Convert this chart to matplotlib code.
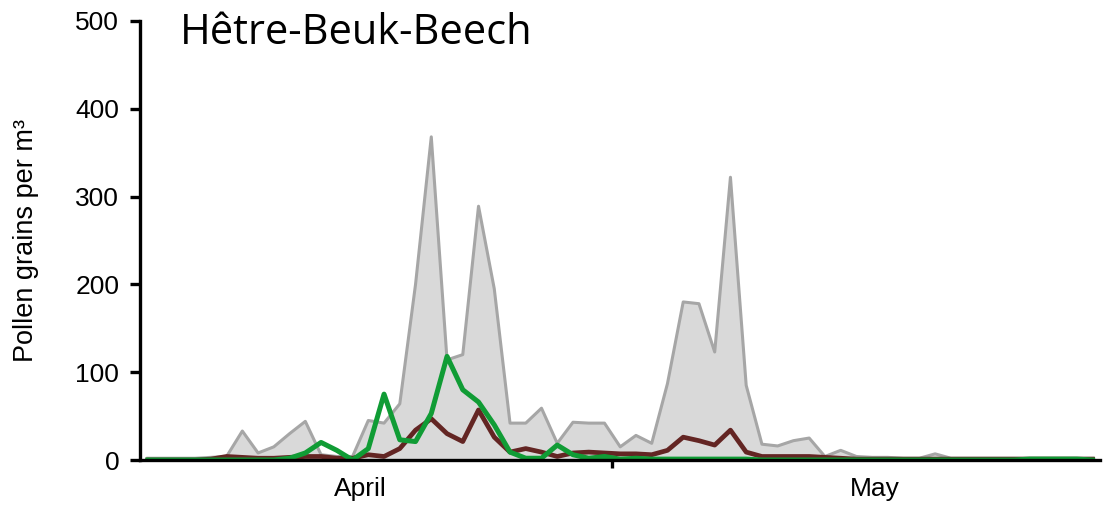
import matplotlib
matplotlib.use("Agg")
import matplotlib.pyplot as plt
import numpy as np

# daily values, 1 April -> 31 May (61 days)
total = [2, 2, 2, 2, 3, 4, 33, 8, 15, 30, 44, 6, 4, 4, 45, 42, 64, 200, 368, 114,
         120, 289, 195, 42, 42, 59, 19, 43, 42, 42, 15, 28, 19, 87, 180, 178, 123, 322, 85, 18,
         16, 22, 25, 4, 11, 4, 3, 3, 2, 2, 7, 2, 2, 2, 2, 2, 2, 2, 2, 2, 2]
site_red = [0, 0, 0, 0, 1, 4, 3, 2, 2, 3, 4, 4, 2, 2, 6, 4, 13, 34, 47, 30,
            21, 57, 26, 9, 13, 9, 4, 8, 9, 8, 7, 7, 6, 11, 26, 22, 17, 34, 9, 4,
            4, 4, 4, 3, 2, 1, 1, 1, 1, 1, 1, 1, 1, 1, 1, 1, 1, 1, 1, 1, 1]
site_green = [0, 0, 0, 0, 0, 0, 0, 0, 0, 2, 8, 20, 11, 0, 13, 75, 23, 21, 53, 118,
              80, 66, 40, 9, 2, 2, 17, 6, 2, 4, 1, 2, 1, 1, 1, 1, 1, 1, 1, 0,
              0, 0, 0, 0, 0, 0, 0, 0, 0, 0, 0, 0, 0, 0, 0, 0, 1, 1, 1, 1, 0]
months = ["April", "May"]
month_days = [30, 31]
month_label_pos = [14.0, 46.7]

x = np.arange(len(total)) + 0.5

fig = plt.figure(figsize=(11.04, 5.07), dpi=100)
ax = fig.add_axes([0.1268, 0.0927, 0.870, 0.866])

ax.fill_between(x, 0, total, color="#D9D9D9", lw=0)
ax.plot(x, total, color="#A6A6A6", lw=2.2)
ax.plot(x, site_red, color="#632523", lw=3.4)
ax.plot(x, site_green, color="#109C35", lw=3.6)

ax.set_xlim(0, sum(month_days))
ax.set_ylim(0, 500)
ax.set_yticks([0, 100, 200, 300, 400, 500])
ax.tick_params(axis="y", labelsize=19, width=2.4, length=7, direction="out", pad=8,
               labelfontfamily="Liberation Sans")

bounds = np.cumsum([0] + month_days)
ax.set_xticks(bounds[1:-1])
ax.set_xticklabels([])
ax.tick_params(axis="x", which="major", width=2.4, length=6, direction="out")
ax.set_xticks(month_label_pos, minor=True)
ax.set_xticklabels(months, minor=True, fontsize=19, family="Liberation Sans")
ax.tick_params(axis="x", which="minor", length=0, pad=12)

for s in ["top", "right"]:
    ax.spines[s].set_visible(False)
ax.spines["left"].set_linewidth(2.4)
ax.spines["bottom"].set_linewidth(2.4)

ax.set_ylabel("Pollen grains per m³", fontsize=19.5, family="Liberation Sans", labelpad=26)
ax.text(0.042, 0.972, "Hêtre-Beuk-Beech", transform=ax.transAxes, fontsize=30,
        family="Open Sans", va="center", ha="left")

plt.savefig("out.png", dpi=100)
